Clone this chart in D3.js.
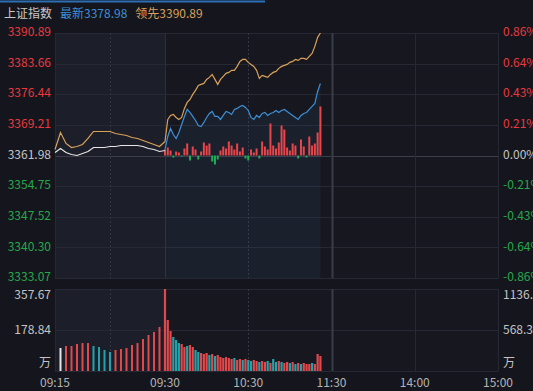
<!DOCTYPE html>
<html>
<head>
<meta charset="utf-8">
<script src="https://cdn.jsdelivr.net/npm/d3@7"></script>
<style>
  html, body { margin: 0; padding: 0; background: #15161d; overflow: hidden; }
  svg { display: block; font-family: "Noto Sans CJK SC", "Noto Sans", sans-serif; }
</style>
</head>
<body>
<div id="chart"></div>
<script>
// --- data ---
const indexName = "上证指数";
const latest = 3378.98;
const leading = 3390.89;
const preClose = 3361.98;

const priceLabels = ["3390.89", "3383.66", "3376.44", "3369.21", "3361.98", "3354.75", "3347.52", "3340.30", "3333.07"];
const pctLabels = ["0.86%", "0.64%", "0.43%", "0.21%", "0.00%", "-0.21%", "-0.43%", "-0.64%", "-0.86%"];
const volLeftLabels = ["357.67", "178.84", "万"];
const volRightLabels = ["1136.70", "568.35", "万"];
const timeLabels = ["09:15", "09:30", "10:30", "11:30", "14:00", "15:00"];
const timeSlots = [0, 20, 80, 140, 200, 260];

// call auction 09:15-09:30
const auctionPrice = [3362.69, 3363.63, 3362.69, 3362.22, 3361.98, 3362.45, 3362.93, 3363.87, 3363.87, 3363.87,
  3364.11, 3364.11, 3364.34, 3364.34, 3364.34, 3364.34, 3364.11, 3363.63, 3363.40, 3362.93, 3363.16];
const auctionLead = [3363.40, 3367.41, 3364.82, 3363.87, 3364.11, 3364.58, 3366.00, 3367.65, 3367.65, 3367.65,
  3367.65, 3367.18, 3366.94, 3366.71, 3366.23, 3366.00, 3365.52, 3365.05, 3364.58, 3364.11, 3365.29];
const auctionVol = [100.3, 109.0, 109.0, 117.8, 122.0, 122.0, 109.0, 104.7, 91.6, 82.9,
  91.6, 96.0, 100.3, 113.4, 122.0, 139.6, 157.0, 170.1, 191.9];
const auctionDir = [0, 1, 1, 1, 1, 1, -1, -1, -1, -1, 1, 1, 1, 1, 1, 1, 1, 1, 1];

// session from 09:30, one entry every 2 minutes
const lastPrice = [3363.40, 3366.47, 3368.36, 3366.94, 3366.00, 3367.41, 3369.31, 3371.20, 3372.85, 3372.14,
  3371.20, 3370.25, 3369.07, 3368.83, 3369.78, 3370.96, 3371.90, 3372.38, 3371.20, 3371.20,
  3370.49, 3371.43, 3372.38, 3372.14, 3371.67, 3372.85, 3373.09, 3373.56, 3373.80, 3373.32,
  3372.61, 3370.96, 3370.49, 3371.43, 3370.96, 3371.90, 3372.14, 3371.43, 3371.90, 3372.14,
  3372.61, 3372.14, 3372.61, 3372.85, 3372.38, 3371.90, 3371.43, 3370.96, 3370.49, 3371.43,
  3371.90, 3372.14, 3372.85, 3373.56, 3374.27, 3377.10, 3378.98];
const leadPrice = [3365.29, 3370.49, 3371.43, 3371.67, 3370.96, 3370.49, 3370.96, 3373.09, 3374.50, 3375.21,
  3376.39, 3377.34, 3378.52, 3378.76, 3378.99, 3379.94, 3380.41, 3381.12, 3379.94, 3378.76,
  3379.94, 3380.65, 3381.36, 3381.59, 3382.07, 3382.07, 3383.01, 3384.19, 3384.66, 3384.66,
  3383.96, 3383.48, 3383.01, 3382.07, 3380.18, 3380.88, 3380.65, 3380.41, 3381.12, 3381.59,
  3381.83, 3382.54, 3383.01, 3383.25, 3383.48, 3383.96, 3384.19, 3384.66, 3384.43, 3384.90,
  3384.90, 3384.66, 3385.37, 3386.08, 3387.74, 3389.86, 3390.89];
const breadth = [6, 8, 5, -2, 4, 3, -1, 7, 12, -5,
  9, 6, -4, 4, 13, 10, 12, -6, -9, -4,
  5, 9, 7, 14, 10, 6, 12, 4, 8, -3,
  -5, 6, 3, 7, -3, 14, 9, 6, 32, 10,
  7, 13, 30, 26, 8, 5, 12, 10, -3, 16,
  9, -2, 19, 10, 12, 23, 49];
const volume = [357.67, 222.5, 174.5, 148.3, 135.2, 122.1, 117.8, 104.7, 109.0, 113.4,
  104.7, 91.6, 82.9, 78.5, 74.2, 78.5, 69.8, 74.2, 65.4, 69.8,
  61.1, 56.7, 61.1, 56.7, 52.3, 56.7, 48.0, 52.3, 48.0, 52.3,
  48.0, 43.6, 48.0, 43.6, 39.3, 43.6, 39.3, 43.6, 34.9, 52.3,
  39.3, 43.6, 39.3, 34.9, 39.3, 34.9, 39.3, 30.5, 34.9, 30.5,
  34.9, 30.5, 30.5, 34.9, 30.5, 74.2, 65.4];
const volDir = [1, 1, 1, -1, -1, -1, 1, 1, -1, 1,
  1, -1, -1, 1, 1, 1, -1, 1, -1, 1,
  1, 1, 1, 1, 1, -1, 1, 1, -1, 1,
  -1, -1, 1, 1, -1, 1, 1, -1, 1, -1,
  -1, 1, -1, 1, 1, -1, 1, -1, 1, -1,
  1, 1, 1, -1, 1, 1, 1];

// --- layout ---
const W = 533, H = 391;
const left = 55, right = 498;
const red = "#e8393f", green = "#26a84a", grey = "#c4c4c4";
const blue = "#3d8fd6", orange = "#d9a15a";

const svg = d3.select("#chart").append("svg")
  .attr("width", W)
  .attr("height", H);

svg.append("rect").attr("width", W).attr("height", H).attr("fill", "#15161d");

// x in slots: 20 auction slots, then one per minute
const x = d3.scaleLinear().domain([0, 20, 260]).range([left, 165, right]);
const y = d3.scaleLinear().domain([3333.07, 3390.89]).range([278, 33]);
const yv = d3.scaleLinear().domain([0, 357.67]).range([371, 289]);
const yb = d3.scaleLinear().domain([-50, 50]).range([y(preClose) + 50, y(preClose) - 50]);

const sessionSlot = i => 20 + 2 * i;
const auctionSlot = i => i;

// header
svg.append("line").attr("x1", 0).attr("x2", 265).attr("y1", 1.5).attr("y2", 1.5)
  .attr("stroke", "#2d6fb4").attr("stroke-width", 2);
const header = svg.append("text").attr("x", 4).attr("y", 18).attr("font-size", 12);
header.append("tspan").attr("fill", "#c8c8c8").text(indexName);
header.append("tspan").attr("dx", 8).attr("fill", blue).text("最新" + latest.toFixed(2));
header.append("tspan").attr("dx", 8).attr("fill", orange).text("领先" + leading.toFixed(2));

// panels
svg.append("rect").attr("x", left).attr("y", 33).attr("width", right - left).attr("height", 245)
  .attr("fill", "#17181f");
svg.append("rect").attr("x", left).attr("y", 289).attr("width", right - left).attr("height", 82)
  .attr("fill", "#17181f");
// auction band
[[33, 245], [289, 82]].forEach(([top, h]) => {
  svg.append("rect").attr("x", x(0)).attr("y", top).attr("width", x(20) - x(0)).attr("height", h)
    .attr("fill", "#1c1e29");
});

// horizontal grid
const grid = svg.append("g").attr("stroke-width", 1);
priceLabels.forEach(p => {
  const yy = Math.round(y(+p)) + 0.5;
  grid.append("line").attr("x1", left).attr("x2", right).attr("y1", yy).attr("y2", yy)
    .attr("stroke", +p === preClose ? "#3b3d49" : "#262833");
});
[0, 178.84, 357.67].forEach(v => {
  const yy = Math.round(yv(v)) + 0.5;
  grid.append("line").attr("x1", left).attr("x2", right).attr("y1", yy).attr("y2", yy)
    .attr("stroke", "#262833");
});

// vertical grid
const vlines = [
  {s: 0, dash: null, c: "#262833", w: 1},
  {s: 10, dash: "2,2", c: "#343644", w: 1},
  {s: 20, dash: null, c: "#2c2e3a", w: 1},
  {s: 80, dash: "2,2", c: "#343644", w: 1},
  {s: 140, dash: null, c: "#3a3c48", w: 2},
  {s: 200, dash: null, c: "#262833", w: 1},
  {s: 260, dash: null, c: "#262833", w: 1}
];
vlines.forEach(v => {
  [[33, 278], [289, 371]].forEach(([a, b]) => {
    grid.append("line").attr("x1", Math.round(x(v.s)) + 0.5).attr("x2", Math.round(x(v.s)) + 0.5)
      .attr("y1", a).attr("y2", b)
      .attr("stroke", v.c).attr("stroke-width", v.w)
      .attr("stroke-dasharray", v.dash);
  });
});

// area under last price
svg.append("path")
  .datum(lastPrice)
  .attr("fill", "rgba(70,110,180,0.10)")
  .attr("d", d3.area().x((d, i) => x(sessionSlot(i))).y0(278).y1(d => y(d)));

// breadth bars around zero line
svg.append("g").selectAll("rect").data(breadth).join("rect")
  .attr("x", (d, i) => x(sessionSlot(i)) - 1)
  .attr("width", 2)
  .attr("y", d => Math.min(yb(d), yb(0)))
  .attr("height", d => Math.abs(yb(d) - yb(0)))
  .attr("fill", d => d >= 0 ? "#e8464b" : "#1fae55");

// lines
const auctionLine = d3.line().x((d, i) => x(auctionSlot(i))).y(d => y(d));
const sessionLine = d3.line().x((d, i) => x(sessionSlot(i))).y(d => y(d));
svg.append("path").datum(auctionLead).attr("d", auctionLine)
  .attr("fill", "none").attr("stroke", orange).attr("stroke-width", 1.2);
svg.append("path").datum(auctionPrice).attr("d", auctionLine)
  .attr("fill", "none").attr("stroke", "#e6e6e6").attr("stroke-width", 1.2);
svg.append("path").datum(leadPrice).attr("d", sessionLine)
  .attr("fill", "none").attr("stroke", orange).attr("stroke-width", 1.2);
svg.append("path").datum(lastPrice).attr("d", sessionLine)
  .attr("fill", "none").attr("stroke", blue).attr("stroke-width", 1.2);

// volume bars
const volColor = d => d > 0 ? "#e0484c" : d < 0 ? "#22a2aa" : "#e6e6e6";
svg.append("g").selectAll("rect").data(auctionVol).join("rect")
  .attr("x", (d, i) => x(auctionSlot(i + 1)) - 1)
  .attr("width", 2)
  .attr("y", d => yv(d))
  .attr("height", d => yv(0) - yv(d))
  .attr("fill", (d, i) => volColor(auctionDir[i]));
svg.append("g").selectAll("rect").data(volume).join("rect")
  .attr("x", (d, i) => x(sessionSlot(i)) - 1.1)
  .attr("width", 2.2)
  .attr("y", d => yv(d))
  .attr("height", d => yv(0) - yv(d))
  .attr("fill", (d, i) => volColor(volDir[i]));

// axis labels
const txt = svg.append("g").attr("font-size", 12).attr("dominant-baseline", "middle");
priceLabels.forEach((p, i) => {
  const c = +p > preClose ? red : +p < preClose ? green : grey;
  txt.append("text").attr("x", 51).attr("y", y(+p)).attr("text-anchor", "end").attr("fill", c).text(p);
  txt.append("text").attr("x", 503).attr("y", y(+p)).attr("fill", c).text(pctLabels[i]);
});
const volY = [296, 331, 364];
volLeftLabels.forEach((t, i) => {
  txt.append("text").attr("x", 51).attr("y", volY[i]).attr("text-anchor", "end").attr("fill", grey).text(t);
});
volRightLabels.forEach((t, i) => {
  txt.append("text").attr("x", 503).attr("y", volY[i]).attr("fill", grey).text(t);
});
timeLabels.forEach((t, i) => {
  txt.append("text").attr("x", x(timeSlots[i])).attr("y", 384).attr("text-anchor", "middle")
    .attr("fill", "#b4b4b4").text(t);
});
</script>
</body>
</html>
